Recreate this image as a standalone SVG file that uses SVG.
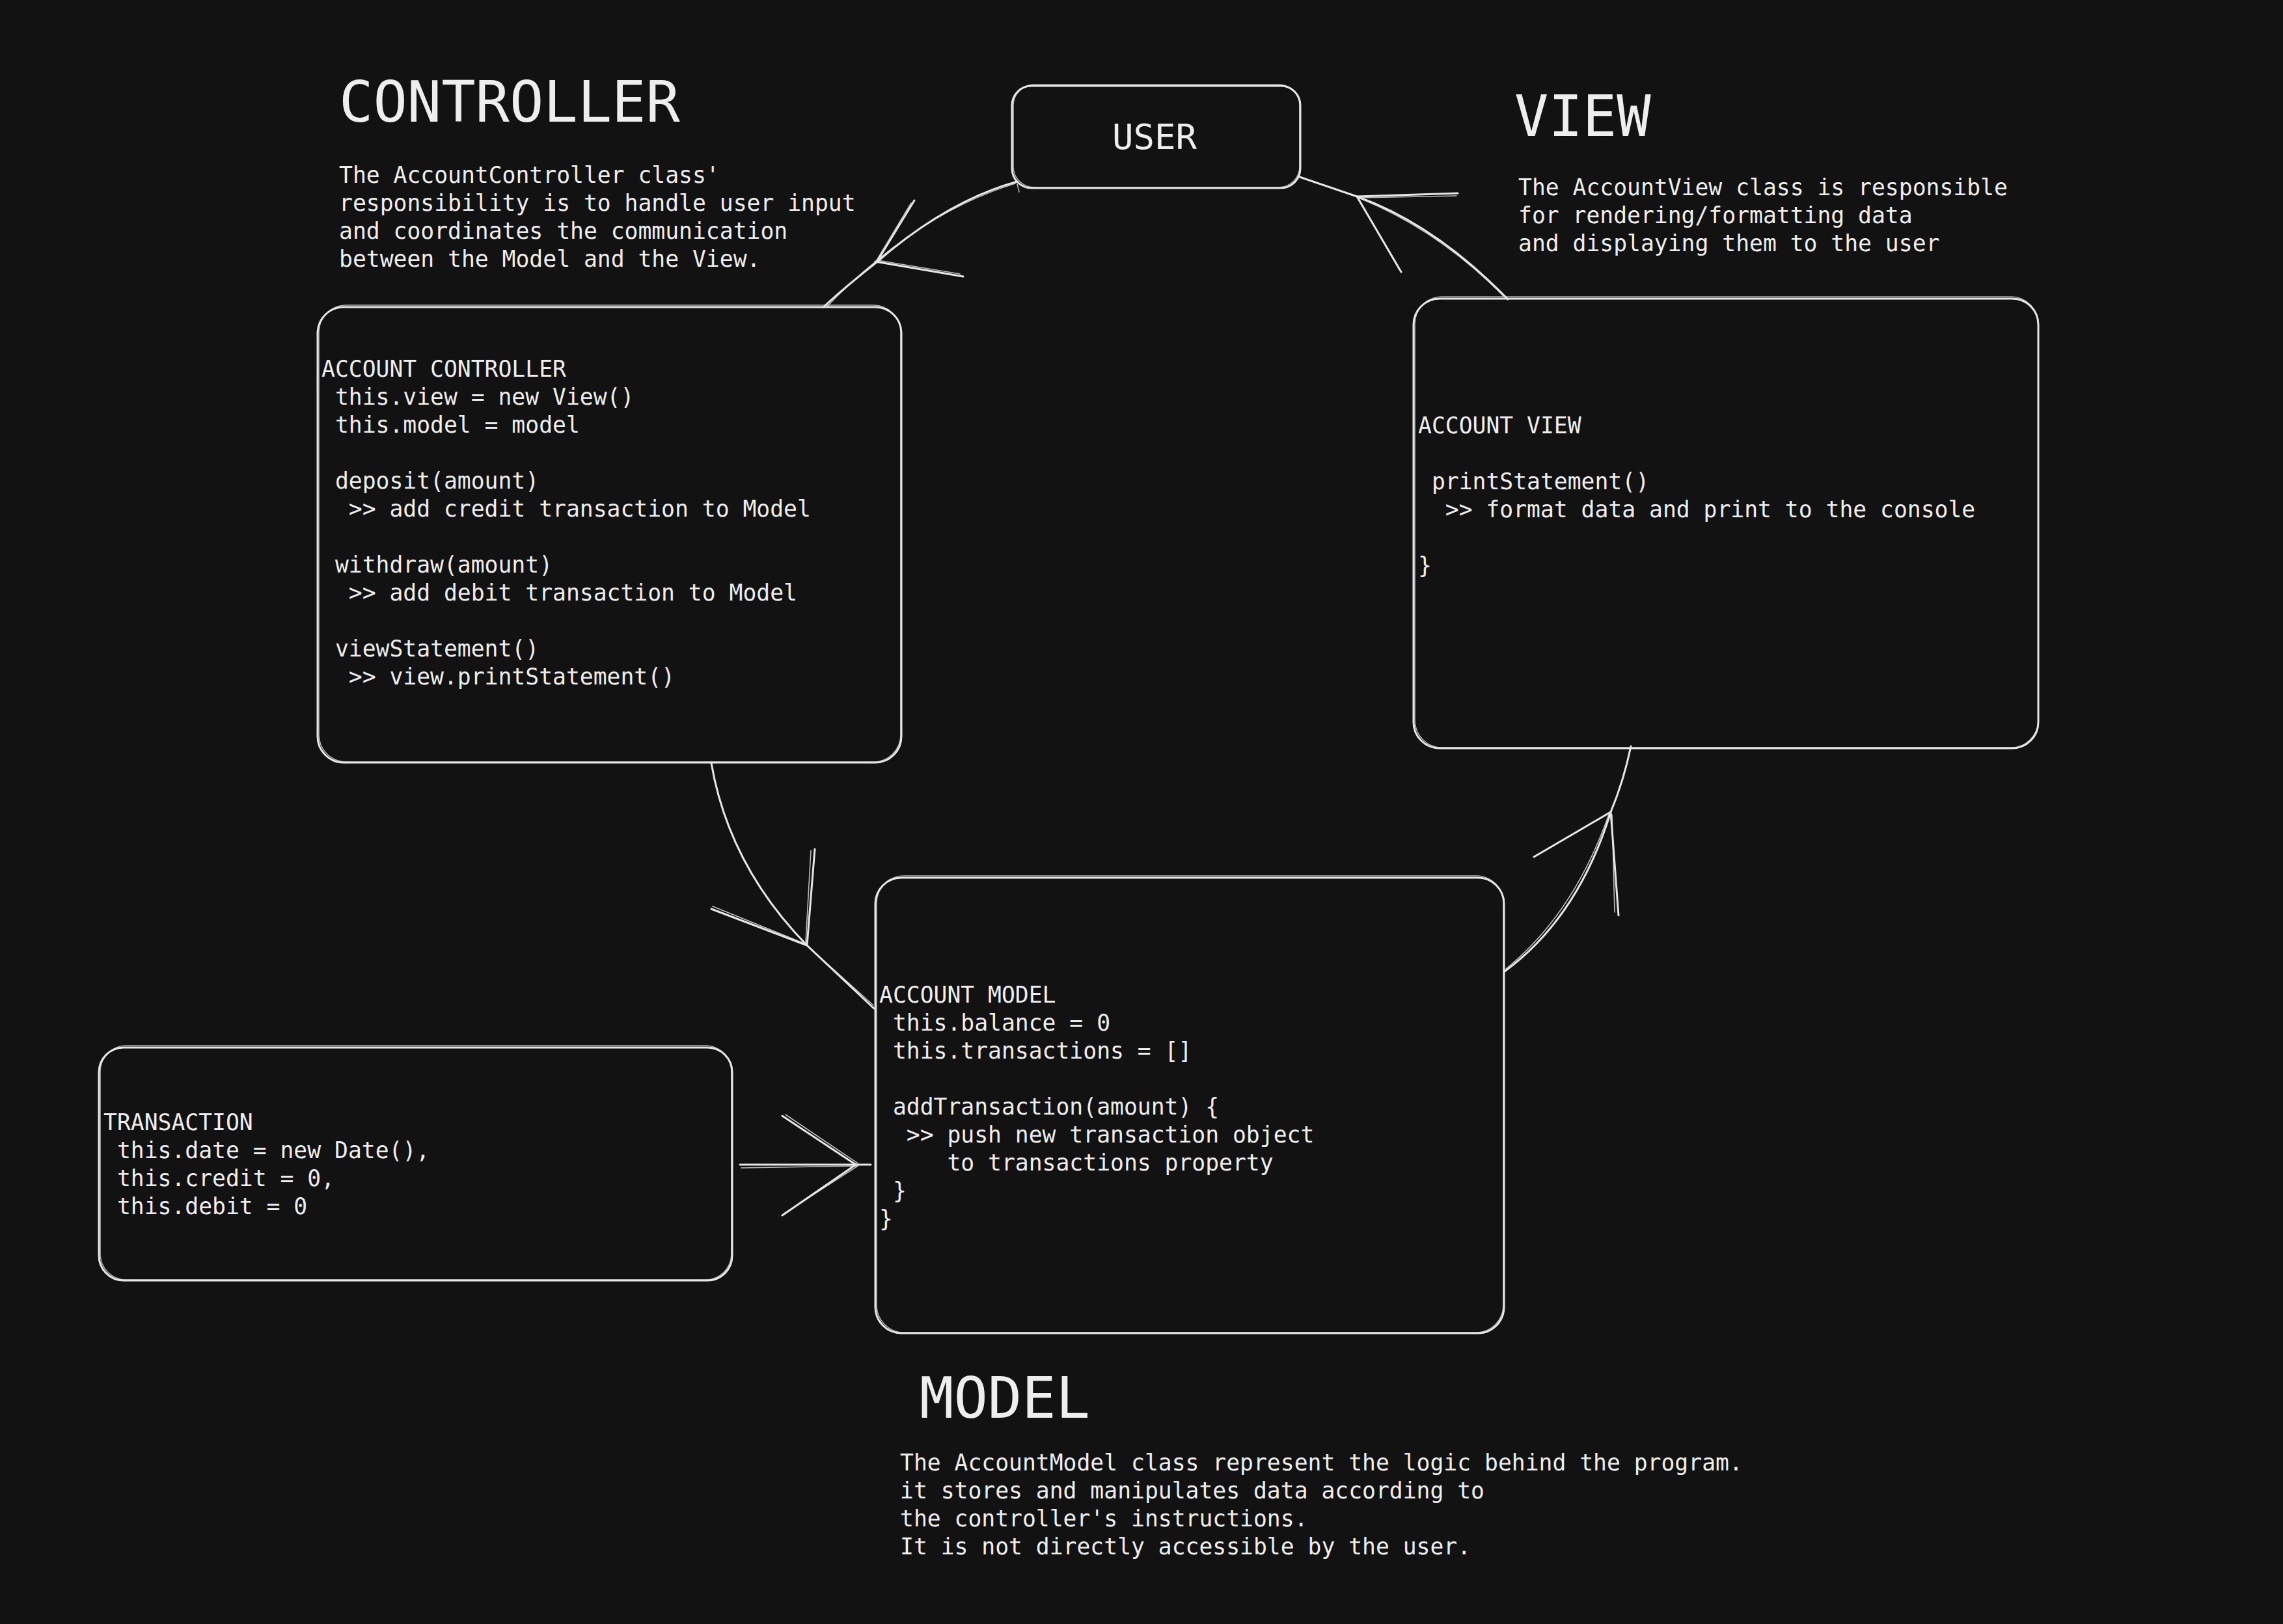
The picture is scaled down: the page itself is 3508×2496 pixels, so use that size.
<svg xmlns="http://www.w3.org/2000/svg" width="3508" height="2496" viewBox="0 0 3508 2496">
<style>
.bg{fill:#121212}
.box{fill:none;stroke:#e6e6e6;stroke-width:3;stroke-linecap:round;stroke-linejoin:round}
.box2{fill:none;stroke:#e6e6e6;stroke-width:1.6;stroke-opacity:0.75}
.ln{fill:none;stroke:#e6e6e6;stroke-width:3;stroke-linecap:round;stroke-linejoin:round}
.ln2{fill:none;stroke:#e6e6e6;stroke-width:1.6;stroke-linecap:round;stroke-opacity:0.8}
.t{font-family:"DejaVu Sans Mono","Liberation Mono",monospace;fill:#eeeeee;white-space:pre}
.body{font-size:34.7px}
.title{font-size:87px}
.user{font-size:54px}
</style>
<rect class="bg" x="0" y="0" width="3508" height="2496"/>

<g id="title-controller">
<text class="t title" x="521" y="187">CONTROLLER</text>
<text class="t body" xml:space="preserve"><tspan x="521" y="281">The AccountController class'</tspan><tspan x="521" y="324">responsibility is to handle user input</tspan><tspan x="521" y="367">and coordinates the communication</tspan><tspan x="521" y="410">between the Model and the View.</tspan></text>
</g>

<g id="title-view">
<text class="t title" x="2327" y="209">VIEW</text>
<text class="t body" xml:space="preserve"><tspan x="2333" y="300">The AccountView class is responsible</tspan><tspan x="2333" y="343">for rendering/formatting data</tspan><tspan x="2333" y="386">and displaying them to the user</tspan></text>
</g>

<g id="title-model">
<text class="t title" x="1413" y="2179">MODEL</text>
<text class="t body" xml:space="preserve"><tspan x="1383" y="2260">The AccountModel class represent the logic behind the program.</tspan><tspan x="1383" y="2303">it stores and manipulates data according to</tspan><tspan x="1383" y="2346">the controller's instructions.</tspan><tspan x="1383" y="2389">It is not directly accessible by the user.</tspan></text>
</g>

<g id="user">
<rect class="box" x="1555" y="132" width="443" height="157" rx="30"/>
<rect class="box2" x="1557" y="130" width="440" height="158" rx="32"/>
<text class="t user" x="1774" y="229" text-anchor="middle">USER</text>
</g>

<g id="account-controller">
<rect class="box" x="488" y="472" width="897" height="700" rx="40"/>
<rect class="box2" x="490" y="469" width="894" height="702" rx="42"/>
<text class="t body" xml:space="preserve"><tspan x="494" y="579">ACCOUNT CONTROLLER</tspan><tspan x="494" y="622"> this.view = new View()</tspan><tspan x="494" y="665"> this.model = model</tspan><tspan x="494" y="751"> deposit(amount)</tspan><tspan x="494" y="794">  &gt;&gt; add credit transaction to Model</tspan><tspan x="494" y="880"> withdraw(amount)</tspan><tspan x="494" y="923">  &gt;&gt; add debit transaction to Model</tspan><tspan x="494" y="1009"> viewStatement()</tspan><tspan x="494" y="1052">  &gt;&gt; view.printStatement()</tspan></text>
</g>

<g id="account-view">
<rect class="box" x="2172" y="459" width="960" height="691" rx="40"/>
<rect class="box2" x="2174" y="456" width="958" height="693" rx="42"/>
<text class="t body" xml:space="preserve"><tspan x="2179" y="666">ACCOUNT VIEW</tspan><tspan x="2179" y="752"> printStatement()</tspan><tspan x="2179" y="795">  &gt;&gt; format data and print to the console</tspan><tspan x="2179" y="881">}</tspan></text>
</g>

<g id="account-model">
<rect class="box" x="1345" y="1349" width="966" height="700" rx="40"/>
<rect class="box2" x="1347" y="1346" width="963" height="702" rx="42"/>
<text class="t body" xml:space="preserve"><tspan x="1351" y="1541">ACCOUNT MODEL</tspan><tspan x="1351" y="1584"> this.balance = 0</tspan><tspan x="1351" y="1627"> this.transactions = []</tspan><tspan x="1351" y="1713"> addTransaction(amount) {</tspan><tspan x="1351" y="1756">  &gt;&gt; push new transaction object</tspan><tspan x="1351" y="1799">     to transactions property</tspan><tspan x="1351" y="1842"> }</tspan><tspan x="1351" y="1885">}</tspan></text>
</g>

<g id="transaction">
<rect class="box" x="152" y="1610" width="973" height="358" rx="38"/>
<rect class="box2" x="154" y="1607" width="970" height="360" rx="40"/>
<text class="t body" xml:space="preserve"><tspan x="159" y="1737">TRANSACTION</tspan><tspan x="159" y="1780"> this.date = new Date(),</tspan><tspan x="159" y="1823"> this.credit = 0,</tspan><tspan x="159" y="1866"> this.debit = 0</tspan></text>
</g>

<g id="connectors">
<!-- User -> Controller -->
<path class="ln" d="M1563,279 Q1455,309 1347,403 Q1300,440 1265,472"/>
<path class="ln2" d="M1560,282 Q1450,316 1350,398 Q1305,435 1270,472"/>
<path class="ln" d="M1405,308 L1347,403 M1480,425 L1345,402"/>
<path class="ln2" d="M1400,312 L1344,405 M1475,421 L1348,400 M1563,283 L1566,295"/>
<!-- View -> User -->
<path class="ln" d="M2317,460 Q2205,345 2085,302 L1997,272"/>
<path class="ln2" d="M2310,455 Q2212,355 2090,305"/>
<path class="ln" d="M2240,297 L2085,302 M2153,418 L2085,302"/>
<path class="ln2" d="M2238,301 L2088,304 M2150,414 L2088,306"/>
<!-- Controller -> Model -->
<path class="ln" d="M1093,1173 Q1120,1330 1240,1453 L1343,1550"/>
<path class="ln2" d="M1245,1458 L1342,1545"/>
<path class="ln" d="M1093,1397 L1240,1453 M1252,1305 L1240,1453"/>
<path class="ln2" d="M1095,1393 L1236,1450 M1246,1307 L1238,1448"/>
<!-- Model -> View -->
<path class="ln" d="M2312,1493 Q2425,1410 2475,1248 Q2495,1200 2506,1147"/>
<path class="ln2" d="M2314,1489 Q2418,1405 2472,1252"/>
<path class="ln" d="M2357,1317 L2475,1248 M2487,1407 L2475,1248"/>
<path class="ln2" d="M2481,1402 L2477,1252"/>
<!-- Transaction -> Model -->
<path class="ln" d="M1137,1790 L1338,1790"/>
<path class="ln2" d="M1139,1795 L1318,1792"/>
<path class="ln" d="M1202,1715 L1315,1790 M1202,1868 L1315,1790"/>
<path class="ln2" d="M1207,1713 L1318,1788 M1205,1865 L1318,1792"/>
</g>
</svg>
